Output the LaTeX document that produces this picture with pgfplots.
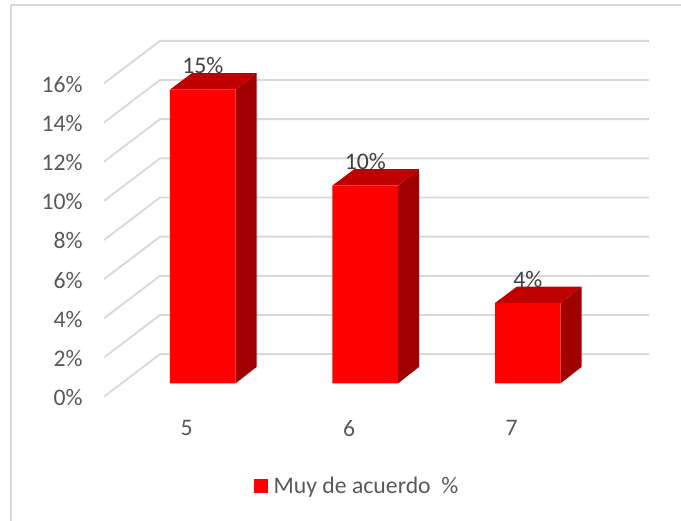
\documentclass[border=0pt]{standalone}
\usepackage{pgfplots}
\pgfplotsset{compat=1.18}
\usepackage{fontspec}
\setmainfont{Carlito}
\definecolor{gridgray}{HTML}{D9D9D9}
\definecolor{txtgray}{HTML}{595959}
\definecolor{lblgray}{HTML}{404040}
\definecolor{sidered}{HTML}{A00000}
\definecolor{topred}{HTML}{C00000}
\pgfplotsset{
  base/.style={
    scale only axis,
    width=408.75pt,
    height=266.8pt,
    xmin=4.4954, xmax=7.8492,
    axis line style={draw=none},
    tick style={draw=none},
    clip=false,
  },
}
\begin{document}
\begin{tikzpicture}[font=\fontsize{17.8pt}{20pt}\selectfont]
  % page = 681x521 px at .75pt, origin at the axis corner
  \path[use as bounding box] (-78pt,-93.2pt) rectangle (432.75pt,297.5pt);
  \draw[gridgray,line width=1.4pt] (-69.75pt,-93.2pt) -- (-69.75pt,293.5pt) -- (432.75pt,293.5pt);

  % walls: front plane values, back plane 2.17 up
  \begin{axis}[
    base,
    ymin=0, ymax=18.166,
    xtick={5,6,7},
    xticklabels={5,6,7},
    ytick={0,2,...,16},
    yticklabels={0\%,2\%,4\%,6\%,8\%,10\%,12\%,14\%,16\%},
    xticklabel style={text=txtgray,yshift=-14.5pt,xshift=0.5pt},
    yticklabel style={text=txtgray,xshift=-12.5pt,yshift=-0.7pt},
  ]
    \addplot[gridgray,line width=1.4pt] coordinates {(4.4954,0)(4.84,2.17)(7.8492,2.17)};
    \addplot[gridgray,line width=1.4pt] coordinates {(4.4954,2)(4.84,4.17)(7.8492,4.17)};
    \addplot[gridgray,line width=1.4pt] coordinates {(4.4954,4)(4.84,6.17)(7.8492,6.17)};
    \addplot[gridgray,line width=1.4pt] coordinates {(4.4954,6)(4.84,8.17)(7.8492,8.17)};
    \addplot[gridgray,line width=1.4pt] coordinates {(4.4954,8)(4.84,10.17)(7.8492,10.17)};
    \addplot[gridgray,line width=1.4pt] coordinates {(4.4954,10)(4.84,12.17)(7.8492,12.17)};
    \addplot[gridgray,line width=1.4pt] coordinates {(4.4954,12)(4.84,14.17)(7.8492,14.17)};
    \addplot[gridgray,line width=1.4pt] coordinates {(4.4954,14)(4.84,16.17)(7.8492,16.17)};
    \addplot[gridgray,line width=1.4pt] coordinates {(4.4954,16)(4.84,18.17)(7.8492,18.17)};
  \end{axis}

  % bars: same box, y=0 lifted to the bar floor
  \begin{axis}[
    base,
    ymin=-0.684, ymax=17.482,
    xtick=\empty, ytick=\empty,
    legend style={draw=none,fill=none,at={(0.2747,-0.252)},anchor=west,
      text=txtgray,inner xsep=0pt,inner ysep=0pt,
      /tikz/every even column/.append style={column sep=0pt}},
    legend image code/.code={\fill[red] (-2pt,-5.25pt) rectangle (8.5pt,5.25pt);},
  ]
    % side faces
    \addplot[forget plot,fill=sidered,draw=none] coordinates {(5.3058,0)(5.435,0.84)(5.435,15.84)(5.3058,15)} -- cycle;
    \addplot[forget plot,fill=sidered,draw=none] coordinates {(6.3058,0)(6.435,0.84)(6.435,10.94)(6.3058,10.1)} -- cycle;
    \addplot[forget plot,fill=sidered,draw=none] coordinates {(7.3058,0)(7.435,0.84)(7.435,4.94)(7.3058,4.1)} -- cycle;
    % top faces
    \addplot[forget plot,fill=topred,draw=none] coordinates {(4.9015,15)(5.0369,15.84)(5.435,15.84)(5.3058,15)} -- cycle;
    \addplot[forget plot,fill=topred,draw=none] coordinates {(5.9015,10.1)(6.0369,10.94)(6.435,10.94)(6.3058,10.1)} -- cycle;
    \addplot[forget plot,fill=topred,draw=none] coordinates {(6.9015,4.1)(7.0369,4.94)(7.435,4.94)(7.3058,4.1)} -- cycle;
    % front faces
    \addplot[ybar,bar width=49.3pt,bar shift=12.64pt,fill=red,draw=none,
      nodes near coords={\pgfmathprintnumber[fixed,precision=0,assume math mode=true]{\pgfplotspointmeta}\%},
      every node near coord/.append style={text=lblgray,xshift=12.6pt,yshift=11.5pt,inner sep=0pt,anchor=south},
    ] coordinates {(5,15)(6,10.1)(7,4.1)};
    \addlegendentry{\hspace{2.2pt}Muy de acuerdo\ \ \%}
  \end{axis}
\end{tikzpicture}
\end{document}
